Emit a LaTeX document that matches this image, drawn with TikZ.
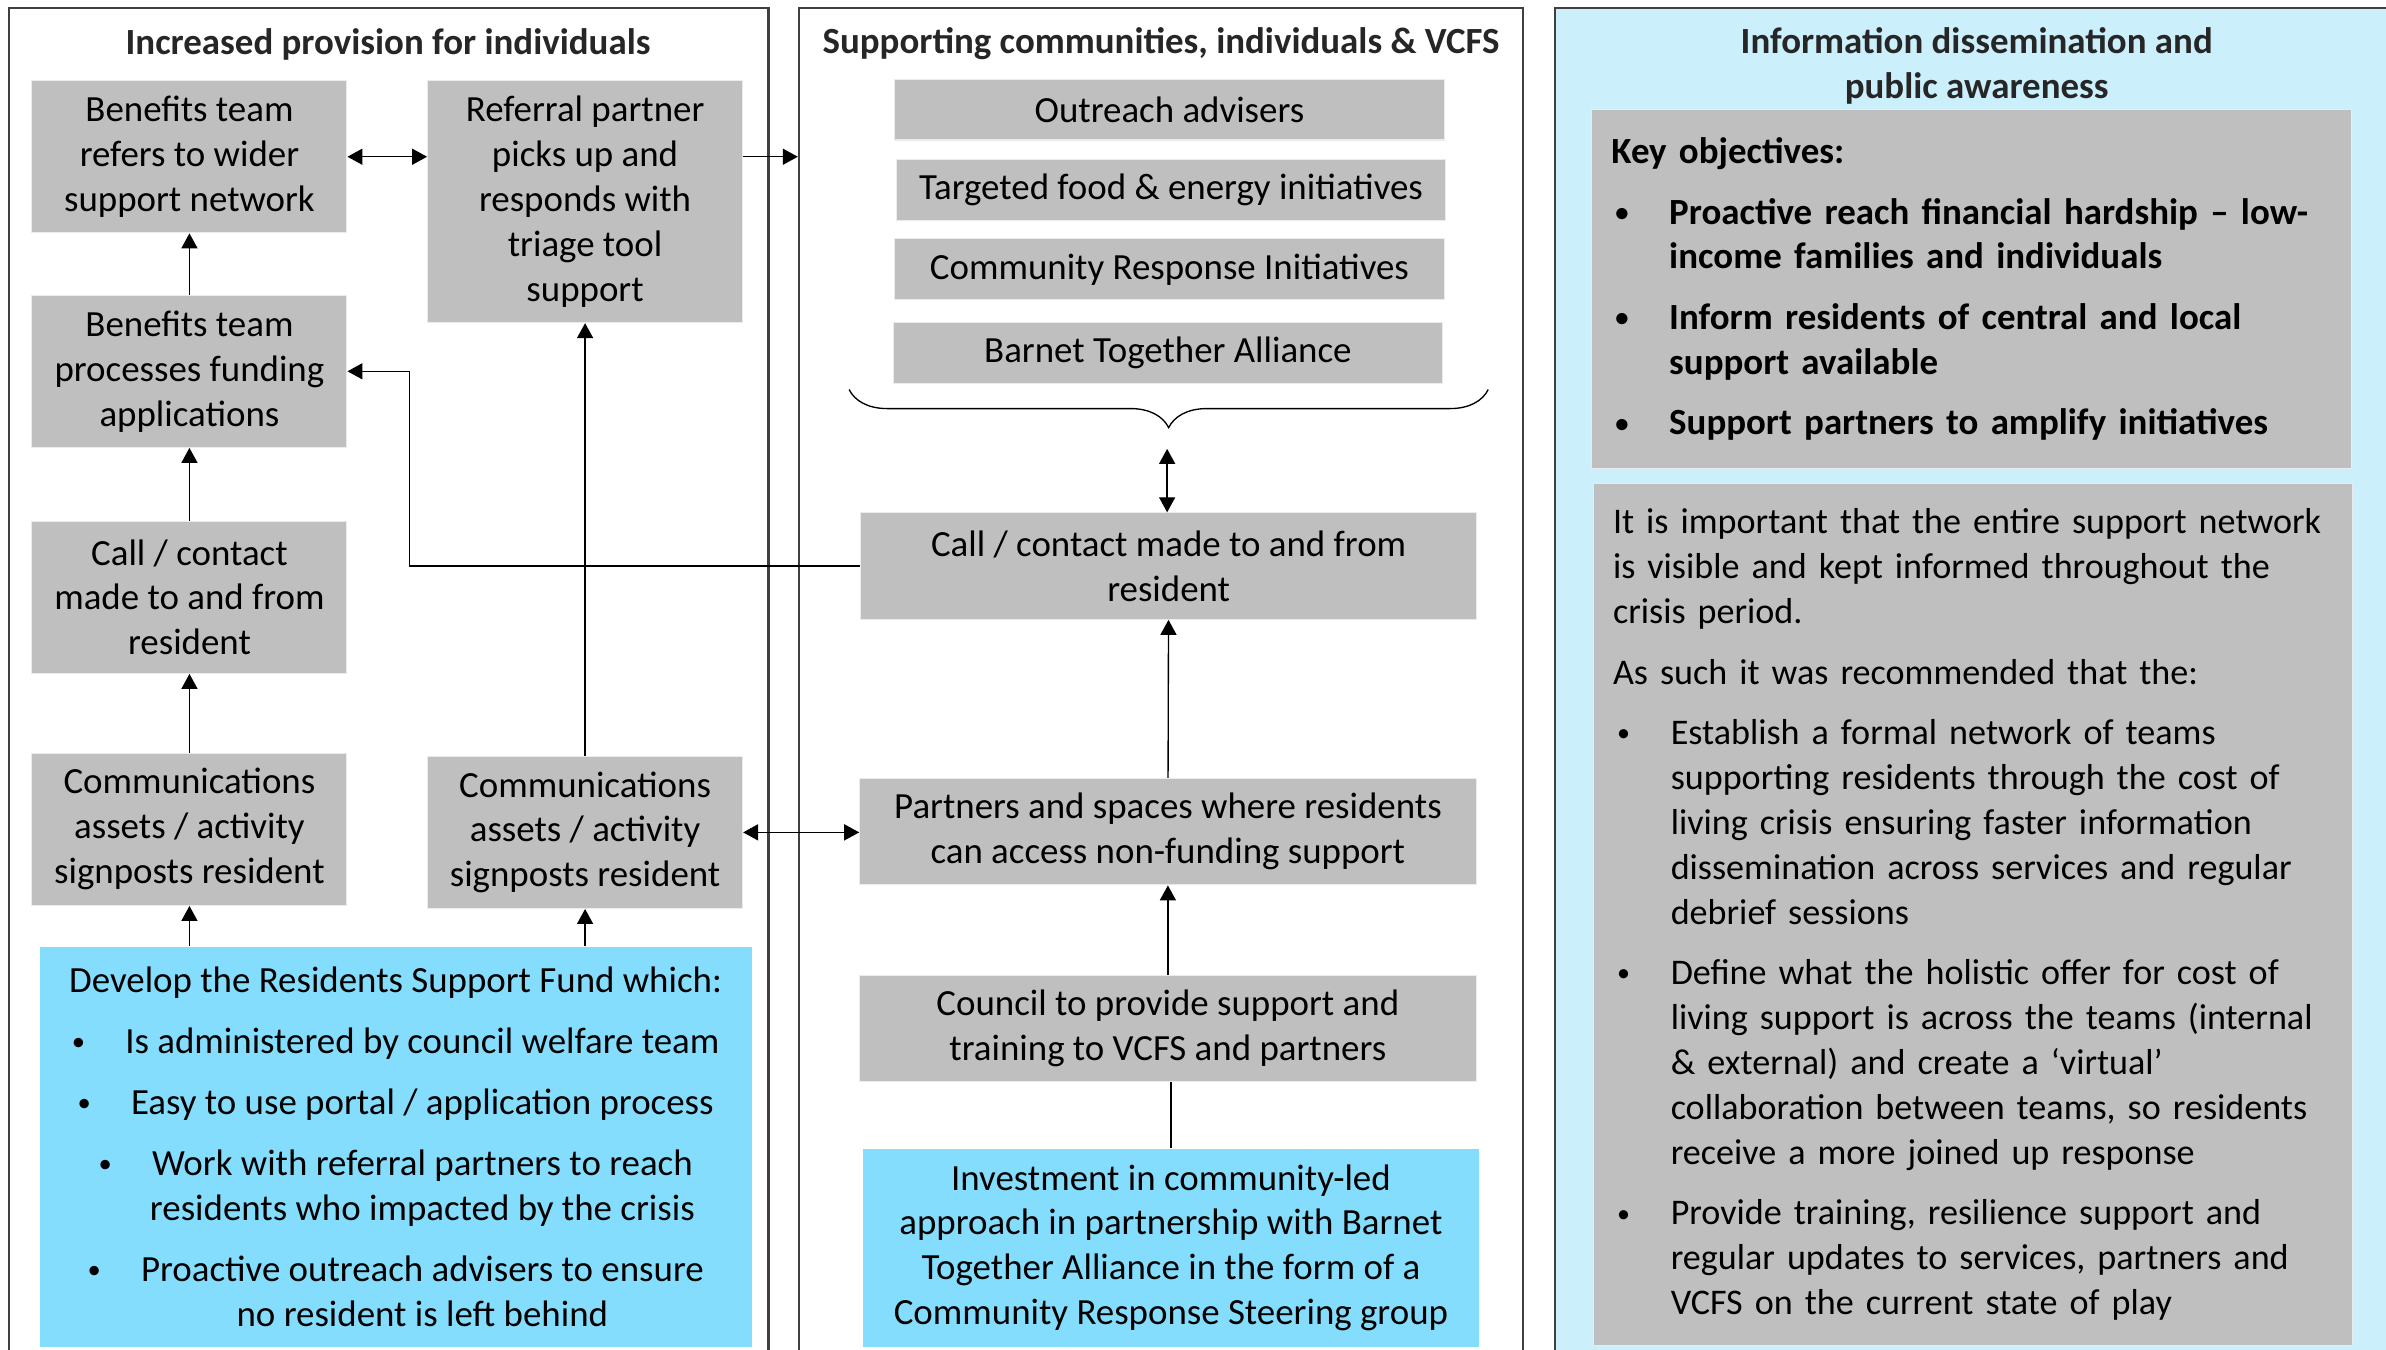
\documentclass[tikz,border=0pt]{standalone}
\usepackage{fontspec}
\setmainfont{Carlito}
\usetikzlibrary{arrows.meta,decorations.pathreplacing}

\definecolor{tilegray}{RGB}{191,191,191}
\definecolor{fundblue}{RGB}{132,221,253}
\definecolor{paleblue}{RGB}{204,239,252}

\newcommand{\dotmark}{\raisebox{1pt}{\scalebox{0.72}{\textbullet}}}
\newcommand{\fbul}{\makebox[20pt][l]{\dotmark}}
\newcommand{\kitem}[1]{\par\hangindent=21.6pt\hangafter=1\noindent\makebox[21.6pt][l]{\hspace{1.5pt}\dotmark}#1\par}

\begin{document}
\begin{tikzpicture}[
  x=0.2mm, y=-0.2mm,
  font=\fontsize{13.8}{16.8}\selectfont,
  panel/.style={draw=black!75, line width=0.8pt, minimum height=180mm, inner sep=0pt},
  head/.style={font=\fontsize{13.8}{16.8}\selectfont\bfseries, text=black!85, align=center},
  tile/.style={fill=tilegray, draw=black!8, line width=0.4pt, align=center, inner sep=0pt,
               minimum width=41.4mm, minimum height=20mm},
  strip/.style={tile, minimum width=72.2mm, minimum height=8mm},
  wide/.style={tile, minimum width=81mm, minimum height=14mm},
  fund/.style={tile, fill=fundblue, draw=none},
  note/.style={tile, align=left, text width=97mm, minimum width=99.8mm, inner xsep=0pt,
               execute at begin node={\raggedright\setlength{\leftskip}{1.2mm}%
                 \setlength{\parindent}{0pt}\setlength{\parskip}{5.8pt}}},
  arr/.style={-{Triangle[length=5.6pt,width=6pt]}, draw=black, line width=0.5pt},
  dbl/.style={{Triangle[length=5.6pt,width=6pt]}-{Triangle[length=5.6pt,width=6pt]}, draw=black, line width=0.5pt}
]
\useasboundingbox (0,0) rectangle (1568,887);
\clip (0,0) rectangle (1568,887);

% three columns
\node[panel, minimum width=99.8mm] (lp) at (255.5,455) {};
\node[panel, minimum width=95.2mm] (mp) at (763,455) {};
\node[panel, minimum width=113.6mm, fill=paleblue] (rp) at (1306,455) {};

\node[head] (lh) at (255,29) {Increased provision for individuals};
\node[head] (mh) at (763,29) {Supporting communities, individuals \& VCFS};
\node[head] (rh) at (1299,43.5) {Information dissemination and\\public awareness};

% left column
\node[tile] (refers) at (124.5,103) {Benefits team\\refers to wider\\support network};
\node[tile, minimum height=31.8mm] (referral) at (384.5,132.5) {Referral partner\\picks up and\\responds with\\triage tool\\support};
\node[tile] (process) at (124.5,244) {Benefits team\\processes funding\\applications};
\node[tile] (call) at (124.5,392.5) {Call / contact\\made to and from\\resident};
\node[tile] (comms) at (124.5,545) {Communications\\assets / activity\\signposts resident};
\node[tile] (comms2) at (384.5,547) {Communications\\assets / activity\\signposts resident};
\node[fund, minimum width=93.6mm, minimum height=52.6mm] (rsf) at (260,753.5)
  {Develop the Residents Support Fund which:\\[6pt]
   \fbul Is administered by council welfare team\\[6pt]
   \fbul Easy to use portal / application process\\[6pt]
   \fbul Work with referral partners to reach\\
   \hspace*{20pt}residents who impacted by the crisis\\[6pt]
   \fbul Proactive outreach advisers to ensure\\
   \hspace*{20pt}no resident is left behind};

% middle column
\node[strip] (outreach) at (768.5,72) {Outreach advisers};
\node[strip] (food) at (769.5,125) {Targeted food \& energy initiatives};
\node[strip] (cri) at (768.5,177) {Community Response Initiatives};
\node[strip] (bta) at (767.5,232) {Barnet Together Alliance};
\coordinate (bl) at (558,256);
\coordinate (br) at (978,256);
\coordinate (btip) at (767,295);
\draw[decorate, decoration={brace, mirror, amplitude=5mm}, line width=0.5pt] (bl) -- (br);

\node[wide] (mcall) at (768,372) {Call / contact made to and from\\resident};
\node[wide] (spaces) at (767.5,546.5) {Partners and spaces where residents\\can access non-funding support};
\node[wide] (council) at (767.5,676) {Council to provide support and\\training to VCFS and partners};
\node[fund, minimum width=81mm, minimum height=26mm] (invest) at (769.5,820)
  {Investment in community-led\\approach in partnership with Barnet\\Together Alliance in the form of a\\Community Response Steering group};

% right column
\node[note, minimum height=47.2mm, font=\fontsize{13.8}{16.8}\selectfont\bfseries] (keyobj) at (1295.5,190)
  {Key objectives:%
   \kitem{Proactive reach financial hardship – low-\newline income families and individuals}%
   \kitem{Inform residents of central and local\newline support available}%
   \kitem{Support partners to amplify initiatives}};
\node[note, minimum height=113.2mm, font=\fontsize{13.5}{16.8}\selectfont] (recs) at (1296.5,601)
  {It is important that the entire support network\newline is visible and kept informed throughout the\newline crisis period.\par
   As such it was recommended that the:%
   \kitem{Establish a formal network of teams\newline supporting residents through the cost of\newline living crisis ensuring faster information\newline dissemination across services and regular\newline debrief sessions}%
   \kitem{Define what the holistic offer for cost of\newline living support is across the teams (internal\newline \& external) and create a ‘virtual’\newline collaboration between teams, so residents\newline receive a more joined up response}%
   \kitem{Provide training, resilience support and\newline regular updates to services, partners and\newline VCFS on the current state of play}};

% connectors
\draw[dbl] (refers.east) -- (refers.east -| referral.west);
\draw[arr] (referral.east |- refers.east) -- (mp.west |- refers.east);
\draw[arr] (process) -- (refers);
\draw[arr] (call) -- (process);
\draw[arr] (comms) -- (call);
\draw[arr] (rsf.north -| comms) -- (comms);
\draw[arr] (rsf.north -| comms2) -- (comms2);
\draw[arr] (comms2) -- (referral);
\coordinate (elbow) at (269,372);
\draw[arr] (mcall.west) -- (elbow) |- (process.east);
\draw[dbl] (comms2.east) -- (comms2.east -| spaces.west);
\draw[dbl] (btip) -- (btip |- mcall.north);
\draw[arr] (spaces) -- (mcall);
\draw[arr] (council) -- (spaces);
\draw[line width=0.5pt] (invest.north) -- (invest.north |- council.south);
\end{tikzpicture}
\end{document}
